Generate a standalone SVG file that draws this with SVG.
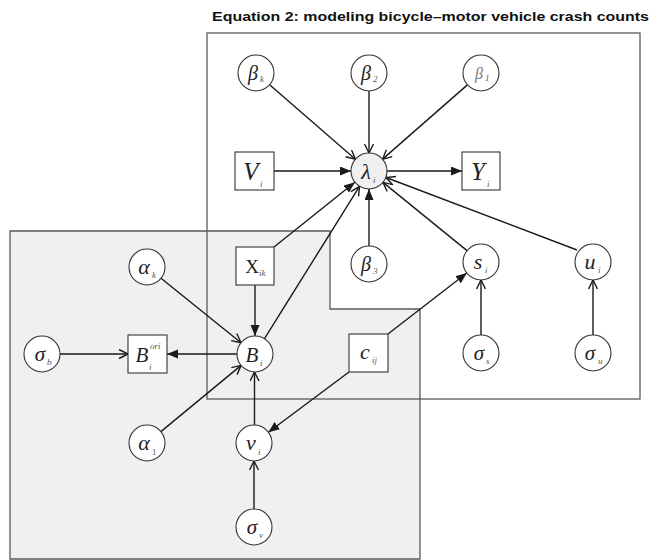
<svg xmlns="http://www.w3.org/2000/svg" width="653" height="560" viewBox="0 0 653 560">
<style>
.plate{fill:none;stroke:#5a5a5a;stroke-width:1.3}
.nd{fill:#fff;stroke:#333;stroke-width:1.1}
.lam{fill:#f0f0f0;stroke:#333;stroke-width:1.1}
.e{stroke:#1a1a1a;stroke-width:1.4;fill:none}
.f{marker-end:url(#fill)}
.o{marker-end:url(#open)}
.m{font-family:"Liberation Serif","DejaVu Serif",serif;font-style:italic;fill:#222;text-anchor:middle}
.s{font-family:"Liberation Serif","DejaVu Serif",serif;font-style:italic;fill:#555;font-size:9px}
.title{font-family:"Liberation Sans",Arial,sans-serif;font-weight:bold;font-size:13.5px;fill:#111}
</style>
<defs>
<marker id="fill" markerUnits="userSpaceOnUse" markerWidth="12" markerHeight="10" refX="11" refY="4.5" orient="auto">
<path d="M0,0 L11,4.5 L0,9 z" fill="#1a1a1a"/>
</marker>
<marker id="open" markerUnits="userSpaceOnUse" markerWidth="12" markerHeight="12" refX="10" refY="5" orient="auto">
<path d="M1,0.5 L10,5 L1,9.5" fill="none" stroke="#1a1a1a" stroke-width="1.4"/>
</marker>
</defs>
<rect width="653" height="560" fill="#fff"/>
<text class="title" x="212" y="21" textLength="437" lengthAdjust="spacingAndGlyphs">Equation 2: modeling bicycle–motor vehicle crash counts</text>
<g id="plates">
<path d="M10,231 H330 V309 H420 V559 H10 Z" fill="#f0f0f0" stroke="#5a5a5a" stroke-width="1.3"/>
<rect class="plate" x="207" y="33" width="433" height="366"/>
</g>
<g id="connectors">
<line class="e o" x1="269.6" y1="84.8" x2="355.4" y2="159.2"/>
<line class="e o" x1="369" y1="91" x2="369" y2="153"/>
<line class="e o" x1="467.4" y1="84.9" x2="382.6" y2="159.1"/>
<line class="e f" x1="274" y1="171" x2="351" y2="171"/>
<line class="e f" x1="387" y1="171" x2="462" y2="171"/>
<line class="e f" x1="274" y1="247" x2="354.9" y2="182.2"/>
<line class="e o" x1="264.5" y1="338.7" x2="359.5" y2="186.3"/>
<line class="e f" x1="369" y1="246" x2="369" y2="189"/>
<line class="e o" x1="467" y1="250.6" x2="383" y2="182.4"/>
<line class="e o" x1="577" y1="250" x2="386" y2="177.5"/>
<line class="e o" x1="161" y1="278.3" x2="241" y2="342.7"/>
<line class="e f" x1="255" y1="285" x2="255" y2="336"/>
<line class="e f" x1="237" y1="354" x2="167" y2="354"/>
<line class="e o" x1="60" y1="354" x2="128" y2="354"/>
<line class="e o" x1="160.9" y1="431.6" x2="241.1" y2="365.4"/>
<line class="e o" x1="254.5" y1="425" x2="254.5" y2="372"/>
<line class="e f" x1="349" y1="372" x2="268.4" y2="432.2"/>
<line class="e f" x1="388" y1="334" x2="466.8" y2="273"/>
<line class="e o" x1="481" y1="335" x2="481" y2="280"/>
<line class="e o" x1="593" y1="335" x2="593" y2="280"/>
<line class="e o" x1="254" y1="509" x2="254" y2="461"/>
</g>
<g id="beta_k"><circle class="nd" cx="256" cy="73" r="18"/><text class="m" x="253" y="80" font-size="20">β</text><text class="s" x="260" y="82">k</text></g>
<g id="beta_2"><circle class="nd" cx="369" cy="73" r="18"/><text class="m" x="366" y="80" font-size="20">β</text><text class="s" x="373" y="82">2</text></g>
<g id="beta_1"><circle class="nd" cx="481" cy="73" r="18"/><text class="m" x="479" y="79" font-size="16" style="fill:#777">β</text><text class="s" x="485" y="81">1</text></g>
<g id="lambda_i"><circle class="lam" cx="369" cy="171" r="18"/><text class="m" x="366" y="179" font-size="22">λ</text><text class="s" x="373" y="183">i</text></g>
<g id="V_i"><rect class="nd" x="235" y="152" width="39" height="38"/><text class="m" x="251" y="180" font-size="25">V</text><text class="s" x="260" y="187">i</text></g>
<g id="Y_i"><rect class="nd" x="462" y="152" width="38" height="38"/><text class="m" x="478" y="180" font-size="25">Y</text><text class="s" x="487" y="187">i</text></g>
<g id="X_ik"><rect class="nd" x="236" y="247" width="38" height="38"/><text class="m" x="252" y="273" font-size="19" style="font-style:normal">X</text><text class="s" x="259" y="276">ik</text></g>
<g id="alpha_k"><circle class="nd" cx="147" cy="267" r="18"/><text class="m" x="144" y="274" font-size="22">α</text><text class="s" x="152" y="278">k</text></g>
<g id="beta_3"><circle class="nd" cx="369" cy="264" r="18"/><text class="m" x="366" y="271" font-size="20">β</text><text class="s" x="373" y="274">3</text></g>
<g id="s_i"><circle class="nd" cx="481" cy="262" r="18"/><text class="m" x="478" y="269" font-size="22">s</text><text class="s" x="485" y="273">i</text></g>
<g id="u_i"><circle class="nd" cx="593" cy="262" r="18"/><text class="m" x="590" y="269" font-size="22">u</text><text class="s" x="598" y="273">i</text></g>
<g id="sigma_b"><circle class="nd" cx="42" cy="354" r="18"/><text class="m" x="40" y="361" font-size="21">σ</text><text class="s" x="47" y="365">b</text></g>
<g id="B_i_ori"><rect class="nd" x="128" y="335" width="39" height="38"/><text class="m" x="142" y="362" font-size="21">B</text><text class="s" x="150" y="349">ori</text><text class="s" x="149" y="370">i</text></g>
<g id="B_i"><circle class="nd" cx="255" cy="354" r="18"/><text class="m" x="252" y="362" font-size="21">B</text><text class="s" x="260" y="366">i</text></g>
<g id="c_ij"><rect class="nd" x="349" y="334" width="39" height="38"/><text class="m" x="365" y="359" font-size="22">c</text><text class="s" x="372" y="363">ij</text></g>
<g id="sigma_s"><circle class="nd" cx="481" cy="353" r="18"/><text class="m" x="479" y="360" font-size="21">σ</text><text class="s" x="486" y="364">s</text></g>
<g id="sigma_u"><circle class="nd" cx="593" cy="353" r="18"/><text class="m" x="590" y="360" font-size="21">σ</text><text class="s" x="598" y="364">u</text></g>
<g id="alpha_1"><circle class="nd" cx="147" cy="443" r="18"/><text class="m" x="144" y="450" font-size="22">α</text><text class="s" x="152" y="455" style="font-style:normal">1</text></g>
<g id="v_i"><circle class="nd" cx="254" cy="443" r="18"/><text class="m" x="251" y="450" font-size="22">v</text><text class="s" x="258" y="455">i</text></g>
<g id="sigma_v"><circle class="nd" cx="254" cy="527" r="18"/><text class="m" x="252" y="534" font-size="21">σ</text><text class="s" x="259" y="538">v</text></g>
</svg>
